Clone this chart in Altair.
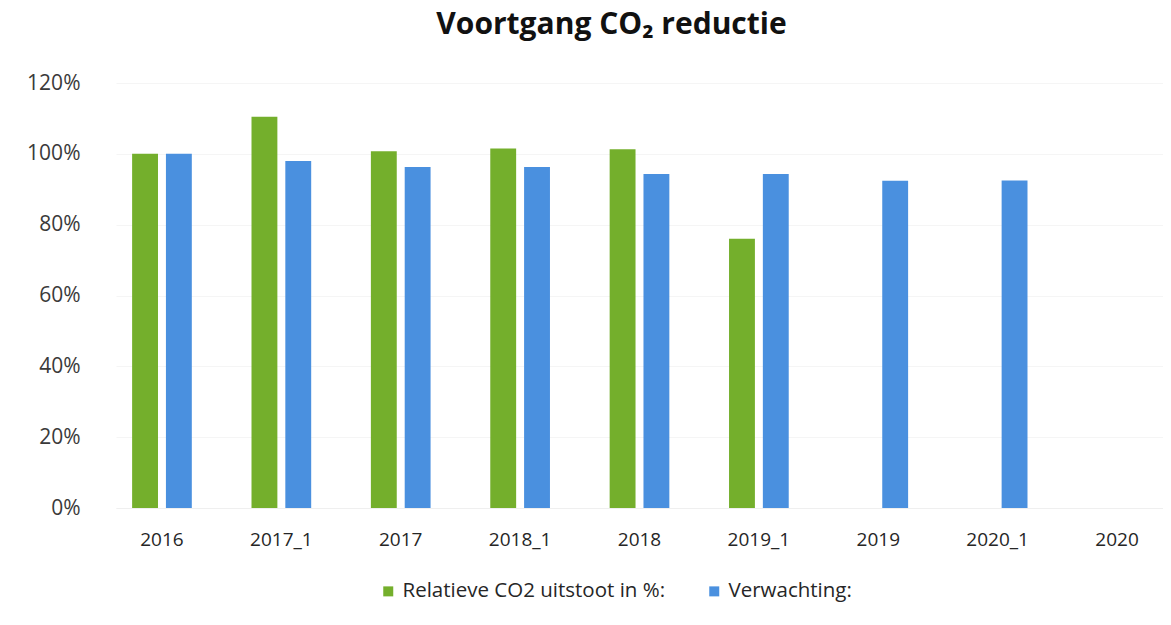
import altair as alt
import pandas as pd

categories = ["2016", "2017_1", "2017", "2018_1", "2018", "2019_1", "2019", "2020_1", "2020"]
series_names = ["Relatieve CO2 uitstoot in %:", "Verwachting:"]
relatief = [1.00, 1.105, 1.007, 1.015, 1.013, 0.76, None, None, None]
verwachting = [1.00, 0.98, 0.963, 0.963, 0.943, 0.943, 0.924, 0.925, None]
y_ticks = [0, 0.2, 0.4, 0.6, 0.8, 1.0, 1.2]
colors = ["#74AF2C", "#4A90DF"]

rows = []
for cat, a, b in zip(categories, relatief, verwachting):
    if a is not None:
        rows.append({"cat": cat, "serie": series_names[0], "val": a})
    if b is not None:
        rows.append({"cat": cat, "serie": series_names[1], "val": b})
df = pd.DataFrame(rows)

font = "Open Sans"

chart = alt.Chart(df).mark_bar().encode(
    x=alt.X("cat:N", sort=categories,
            scale=alt.Scale(domain=categories, paddingInner=0.5, paddingOuter=0.135),
            axis=alt.Axis(title=None, labelAngle=0, ticks=False, domain=True,
                          domainColor="#EFEFEF", labelPadding=22, labelFontSize=19,
                          labelColor="#262626", labelFont=font)),
    xOffset=alt.XOffset("serie:N", sort=series_names,
                        scale=alt.Scale(domain=series_names, paddingInner=0.235, paddingOuter=0)),
    y=alt.Y("val:Q", scale=alt.Scale(domain=[0, 1.2], nice=False),
            axis=alt.Axis(title=None, values=y_ticks, format=".0%", ticks=False,
                          domain=False, grid=True, gridColor="#F5F5F5",
                          labelPadding=36, labelFontSize=21, labelColor="#3A3A3A",
                          labelFont=font)),
    color=alt.Color("serie:N", sort=series_names,
                    scale=alt.Scale(domain=series_names, range=colors),
                    legend=alt.Legend(title=None, orient="none", direction="horizontal",
                                      legendX=262, legendY=498, symbolType="square",
                                      symbolSize=100, symbolStrokeWidth=0, labelFontSize=20.5,
                                      labelFont=font, labelColor="#262626", labelOffset=4,
                                      labelLimit=0, columnPadding=38)),
).properties(
    width=1047,
    height=425,
    title=alt.TitleParams("Voortgang CO₂ reductie", font=font, fontSize=30,
                          fontWeight="bold", color="#111111", anchor="middle",
                          dx=-28, offset=32),
    autosize=alt.AutoSizeParams(type="none"),
    padding={"left": 108, "top": 75, "right": 0, "bottom": 100},
).configure_view(stroke=None)

chart.save("out.html", embed_options={"renderer": "svg", "actions": False})
